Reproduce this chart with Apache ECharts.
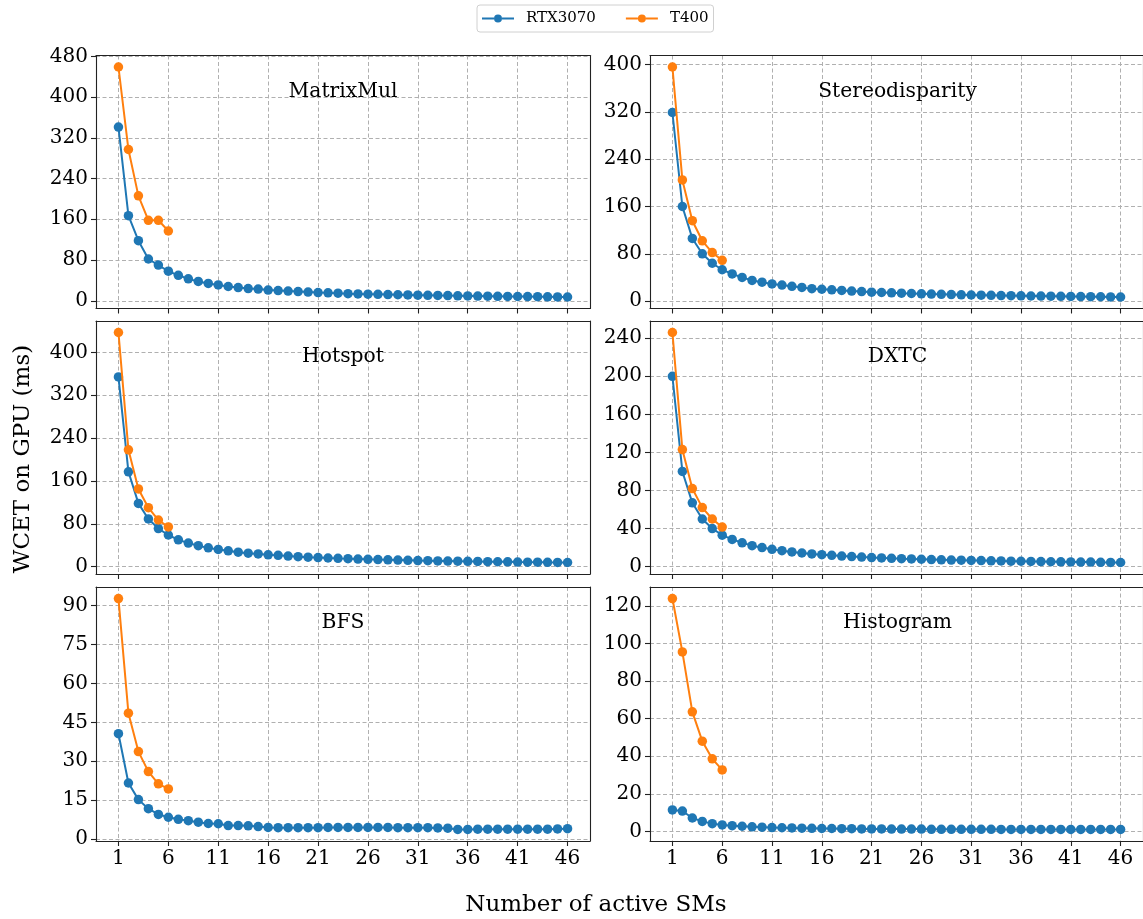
<!DOCTYPE html>
<html><head><meta charset="utf-8">
<script src="https://cdn.jsdelivr.net/npm/echarts@6/dist/echarts.min.js"></script>
<style>html,body{margin:0;padding:0;background:#fff}#c{width:1143px;height:919px}</style>
</head><body><div id="c"></div>
<script>
// ---------------- DATA ----------------
const smCounts = [1,2,3,4,5,6,7,8,9,10,11,12,13,14,15,16,17,18,19,20,21,22,23,24,25,26,27,28,29,30,31,32,33,34,35,36,37,38,39,40,41,42,43,44,45,46];
const t400Counts = [1,2,3,4,5,6];
const xTicks = [1,6,11,16,21,26,31,36,41,46];
const seriesNames = ['RTX3070','T400'];
const panelNames = ['MatrixMul','Stereodisparity','Hotspot','DXTC','BFS','Histogram'];

const matrixMulRTX = [341,167,118,82,70,58,50,43,38,34,31,28,26,24,23,21,20,19,18,17,16,15.5,15,14,13.5,13,12.6,12.2,11.8,11.4,11,10.7,10.4,10.1,9.8,9.5,9.3,9.0,8.8,8.6,8.4,8.2,8.0,7.8,7.6,7.4];
const matrixMulT400 = [459,297,206,158,158,137];
const matrixMulTicks = [0,80,160,240,320,400,480];

const stereoRTX = [319,160,106,80,64,53,46,40,35,32,29,27,25,23,21,20,19,18,17,16,15,14.5,13.9,13.3,12.8,12.3,11.8,11.4,11,10.6,10.3,10,9.7,9.4,9.1,8.9,8.6,8.4,8.2,8,7.8,7.6,7.4,7.3,7.1,6.9];
const stereoT400 = [396,205,136,102,82,69];
const stereoTicks = [0,80,160,240,320,400];

const hotspotRTX = [354,177,118,89,71,59,50,44,39,35,32,29.5,27,25,23.6,22,21,19.7,18.6,17.7,16.9,16.1,15.4,14.8,14.2,13.6,13.1,12.6,12.2,11.8,11.4,11.1,10.7,10.4,10.1,9.8,9.6,9.3,9.1,8.9,8.6,8.4,8.2,8.0,7.9,7.7];
const hotspotT400 = [437,218,145,110,87,74];
const hotspotTicks = [0,80,160,240,320,400];

const dxtcRTX = [200,100,67,50,40,33,28.6,25,22,20,18.2,16.7,15.4,14.3,13.3,12.5,11.8,11.1,10.5,10,9.5,9.1,8.7,8.3,8,7.7,7.4,7.1,6.9,6.7,6.5,6.3,6.1,5.9,5.7,5.6,5.4,5.3,5.1,5,4.9,4.8,4.7,4.5,4.4,4.3];
const dxtcT400 = [246,123,82,62,50,41.5];
const dxtcTicks = [0,40,80,120,160,200,240];

const bfsRTX = [40.6,21.6,15.2,11.7,9.5,8.4,7.6,7.1,6.5,6.0,5.9,5.2,5.2,5.1,4.8,4.5,4.4,4.4,4.4,4.4,4.4,4.5,4.5,4.5,4.5,4.5,4.5,4.5,4.4,4.4,4.4,4.4,4.3,4.2,3.7,3.7,3.8,3.8,3.8,3.8,3.8,3.8,3.8,3.8,3.9,4.0];
const bfsT400 = [92.7,48.5,33.7,26,21.3,19.3];
const bfsTicks = [0,15,30,45,60,75,90];

const histRTX = [11.4,10.8,7.1,5.3,4.1,3.4,3.0,2.7,2.4,2.2,2.0,1.9,1.8,1.7,1.6,1.5,1.5,1.4,1.4,1.3,1.3,1.3,1.2,1.2,1.2,1.2,1.1,1.1,1.1,1.1,1.1,1.1,1.1,1.0,1.0,1.0,1.0,1.0,1.0,1.0,1.0,1.0,1.0,1.0,1.0,1.0];
const histT400 = [123.9,95.5,63.6,48,38.6,32.7];
const histTicks = [0,20,40,60,80,100,120];

const xLabel = 'Number of active SMs';
const yLabel = 'WCET on GPU (ms)';

// ---------------- LAYOUT / STYLE ----------------
const FONT = 'DejaVu Serif';
const BLUE = '#1f77b4', ORANGE = '#ff7f0e';
const panels = [
  {name: panelNames[0], rtx: matrixMulRTX, t400: matrixMulT400, ticks: matrixMulTicks},
  {name: panelNames[1], rtx: stereoRTX, t400: stereoT400, ticks: stereoTicks},
  {name: panelNames[2], rtx: hotspotRTX, t400: hotspotT400, ticks: hotspotTicks},
  {name: panelNames[3], rtx: dxtcRTX, t400: dxtcT400, ticks: dxtcTicks},
  {name: panelNames[4], rtx: bfsRTX, t400: bfsT400, ticks: bfsTicks},
  {name: panelNames[5], rtx: histRTX, t400: histT400, ticks: histTicks}
];
const colLeft = [96, 650], colWidth = [494, 495];
const rowTop = [55.5, 321, 587], rowHeight = [253, 253, 254];

const grids = [], xAxes = [], yAxes = [], series = [], graphics = [];
const gridLine = {show: true, lineStyle: {color: '#b0b0b0', width: 1, type: [4, 2.5]}};
panels.forEach((p, i) => {
  const col = i % 2, row = Math.floor(i / 2);
  grids.push({left: colLeft[col], top: rowTop[row], width: colWidth[col], height: rowHeight[row], containLabel: false});
  const xMin = smCounts[0], xMax = smCounts[smCounts.length - 1];
  const xm = (xMax - xMin) * 0.05;
  const allY = p.rtx.concat(p.t400);
  const yMinD = Math.min(...allY), yMaxD = Math.max(...allY);
  const ym = (yMaxD - yMinD) * 0.05;
  xAxes.push({
    type: 'value', gridIndex: i, min: xMin - xm, max: xMax + xm,
    axisLine: {show: true, onZero: false, lineStyle: {color: '#222', width: 1.1}},
    axisTick: {show: true, inside: false, length: 5, customValues: xTicks, lineStyle: {color: '#222', width: 1.1}},
    axisLabel: {show: row === 2, customValues: xTicks, margin: 8, color: '#000', fontFamily: FONT, fontSize: 20},
    splitLine: gridLine
  });
  xAxes.push({
    type: 'value', gridIndex: i, position: 'top', min: xMin - xm, max: xMax + xm,
    axisLine: {show: true, onZero: false, lineStyle: {color: '#222', width: 1.1}},
    axisTick: {show: false}, axisLabel: {show: false}, splitLine: {show: false}
  });
  yAxes.push({
    type: 'value', gridIndex: i, min: yMinD - ym, max: yMaxD + ym,
    axisLine: {show: true, onZero: false, lineStyle: {color: '#222', width: 1.1}},
    axisTick: {show: true, inside: false, length: 5, customValues: p.ticks, lineStyle: {color: '#222', width: 1.1}},
    axisLabel: {show: true, customValues: p.ticks, margin: 8, color: '#000', fontFamily: FONT, fontSize: 20},
    splitLine: gridLine
  });
  yAxes.push({
    type: 'value', gridIndex: i, position: 'right', min: yMinD - ym, max: yMaxD + ym,
    axisLine: {show: true, onZero: false, lineStyle: {color: '#222', width: 1.1}},
    axisTick: {show: false}, axisLabel: {show: false}, splitLine: {show: false}
  });
  series.push({
    name: seriesNames[0], type: 'line', xAxisIndex: 2 * i, yAxisIndex: 2 * i,
    data: smCounts.map((x, k) => [x, p.rtx[k]]),
    symbol: 'circle', symbolSize: 9.5, showSymbol: true, color: BLUE,
    lineStyle: {width: 2, color: BLUE}, itemStyle: {color: BLUE}, z: 3
  });
  series.push({
    name: seriesNames[1], type: 'line', xAxisIndex: 2 * i, yAxisIndex: 2 * i,
    data: t400Counts.map((x, k) => [x, p.t400[k]]),
    symbol: 'circle', symbolSize: 9.5, showSymbol: true, color: ORANGE,
    lineStyle: {width: 2, color: ORANGE}, itemStyle: {color: ORANGE}, z: 4
  });
  graphics.push({
    type: 'text', x: colLeft[col] + colWidth[col] / 2, y: rowTop[row] + 36,
    style: {text: p.name, fontFamily: FONT, fontSize: 20.3, fill: '#000', textAlign: 'center', textVerticalAlign: 'middle'},
    z: 10
  });
});
graphics.push({
  type: 'text', x: 23, y: 459, rotation: Math.PI / 2,
  style: {text: yLabel, fontFamily: FONT, fontSize: 23, fill: '#000', textAlign: 'center', textVerticalAlign: 'middle'}
});
graphics.push({
  type: 'text', x: 596, y: 905,
  style: {text: xLabel, fontFamily: FONT, fontSize: 23, fill: '#000', textAlign: 'center', textVerticalAlign: 'middle'}
});

const legendIcon = 'path://M0,3 L12,3 L12,5 L0,5 Z M16,0 A4,4 0 1 1 16,8 A4,4 0 1 1 16,0 Z M20,3 L32,3 L32,5 L20,5 Z';
const chart = echarts.init(document.getElementById('c'), null, {renderer: 'canvas'});
chart.setOption({
  backgroundColor: '#fff',
  animation: false,
  legend: {
    data: seriesNames.map(n => ({name: n, icon: legendIcon})), top: 5, left: 477,
    itemWidth: 32, itemHeight: 8, itemGap: 30,
    padding: [6, 5, 6, 5],
    borderColor: '#d0d0d0', borderWidth: 1, borderRadius: 3,
    textStyle: {fontFamily: FONT, fontSize: 15, color: '#000', padding: [0, 0, 0, 7]}
  },
  grid: grids, xAxis: xAxes, yAxis: yAxes, series: series, graphic: graphics
});
</script></body></html>
